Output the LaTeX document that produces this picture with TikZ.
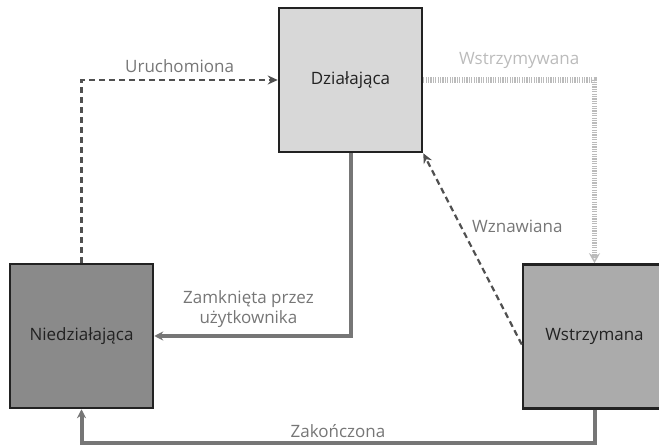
\documentclass[tikz,border=0pt]{standalone}
\usepackage{fontspec}
\setmainfont{Open Sans}
\usetikzlibrary{arrows.meta}
\definecolor{boxline}{HTML}{222222}
\definecolor{runfill}{HTML}{D8D8D8}
\definecolor{offfill}{HTML}{8A8A8A}
\definecolor{stopfill}{HTML}{ABABAB}
\definecolor{labelgray}{HTML}{767676}
\definecolor{lightgray}{HTML}{BBBBBB}
\definecolor{dashgray}{HTML}{505050}
\begin{document}
\begin{tikzpicture}[x=1pt,y=-1pt,
		state/.style={draw=boxline,line width=2.5pt,minimum width=143pt,minimum height=144pt,inner sep=0pt,text=boxline,font=\fontsize{17}{20}\selectfont},
		lbl/.style={text=labelgray,font=\fontsize{17}{20.5}\selectfont,align=center},
		solidarrow/.style={draw=labelgray,line width=4pt,-{Stealth[length=9pt,width=9pt]}},
		dasharrow/.style={draw=dashgray,line width=2.2pt,dash pattern=on 6pt off 4pt,-{Stealth[length=10pt,width=9pt]}},
		dotarrow/.style={draw=lightgray,line width=5.5pt,dash pattern=on 1.2pt off 1.2pt,-{Stealth[length=10pt,width=11pt,open,line width=1.5pt]}}]
		\useasboundingbox (0,0) rectangle (659,446);
		\node[state,fill=runfill] (dzialajaca) at (350.5,80) {Działająca};
		\node[state,fill=offfill] (niedzialajaca) at (81.5,336) {Niedziałająca};
		\node[state,fill=stopfill] (wstrzymana) at (594.5,336.5) {Wstrzymana};
		\coordinate (zakonczona) at (594.5,443);
		\draw[dasharrow] (niedzialajaca.north) |- (dzialajaca.west) node[lbl,pos=.75,above=3pt] {Uruchomiona};
		\draw[dotarrow] (dzialajaca.east) -| (wstrzymana.north) node[lbl,text=lightgray,pos=.28,above=5pt] {Wstrzymywana};
		\draw[solidarrow] (dzialajaca.south) |- (niedzialajaca.east) node[lbl,pos=.76,above=3pt] {Zamknięta przez\\użytkownika};
		\draw[dasharrow] ([yshift=-8pt]wstrzymana.west) -- (dzialajaca.south east) node[lbl,pos=.62,right=7pt] {Wznawiana};
		\draw[solidarrow] (wstrzymana.south) -- (zakonczona) -| (niedzialajaca.south) node[lbl,pos=.25,above=0pt] {Zakończona};
	\end{tikzpicture}
\end{document}
